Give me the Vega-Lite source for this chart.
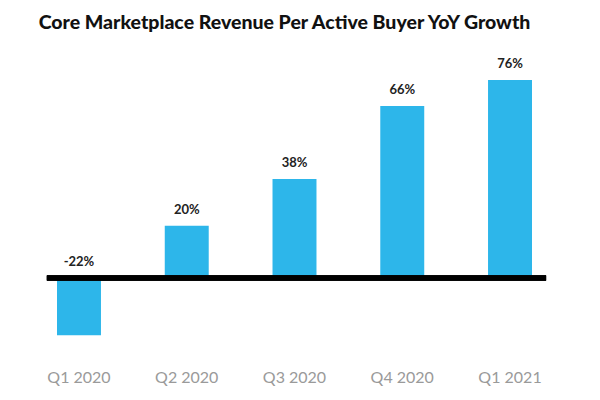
{
  "$schema": "https://vega.github.io/schema/vega-lite/v6.json",
  "autosize": "none",
  "width": 589,
  "height": 310,
  "padding": {"top": 50, "left": 0, "right": 11, "bottom": 40},
  "background": "white",
  "title": {
    "text": "Core Marketplace Revenue Per Active Buyer YoY Growth",
    "font": "Lato",
    "fontSize": 19.5,
    "fontWeight": 900,
    "color": "#111111",
    "anchor": "middle",
    "dx": -10,
    "offset": 17
  },
  "config": {
    "view": {"stroke": null},
    "font": "Lato"
  },
  "data": {
    "values": [
      {"quarter": "Q1 2020", "growth": -22},
      {"quarter": "Q2 2020", "growth": 20},
      {"quarter": "Q3 2020", "growth": 38},
      {"quarter": "Q4 2020", "growth": 66},
      {"quarter": "Q1 2021", "growth": 76}
    ]
  },
  "encoding": {
    "x": {
      "field": "quarter",
      "type": "nominal",
      "sort": null,
      "scale": {"paddingInner": 0.592, "paddingOuter": 0.529},
      "axis": {
        "title": null,
        "domain": false,
        "ticks": false,
        "labelAngle": 0,
        "labelColor": "#9a9a9a",
        "labelFontSize": 16,
        "labelFont": "Lato",
        "labelPadding": 9
      }
    }
  },
  "layer": [
    {
      "mark": {"type": "bar", "color": "#2db6ea"},
      "encoding": {
        "y": {
          "field": "growth",
          "type": "quantitative",
          "scale": {"domain": [-31.5, 87.5], "nice": false, "zero": false},
          "axis": null
        }
      }
    },
    {
      "transform": [
        {"calculate": "max(datum.growth, 0)", "as": "labelPos"},
        {"calculate": "datum.growth + '%'", "as": "label"}
      ],
      "mark": {"type": "text", "baseline": "bottom", "dy": -9, "fontSize": 13, "fontWeight": "bold", "color": "#222222", "font": "Lato"},
      "encoding": {
        "y": {"field": "labelPos", "type": "quantitative"},
        "text": {"field": "label", "type": "nominal"}
      }
    },
    {
      "mark": {"type": "rule", "color": "#000000", "strokeWidth": 5},
      "encoding": {
        "x": {"datum": "Q1 2020", "bandPosition": -0.23},
        "x2": {"datum": "Q1 2021", "bandPosition": 1.32},
        "y": {"datum": 0}
      }
    }
  ]
}
